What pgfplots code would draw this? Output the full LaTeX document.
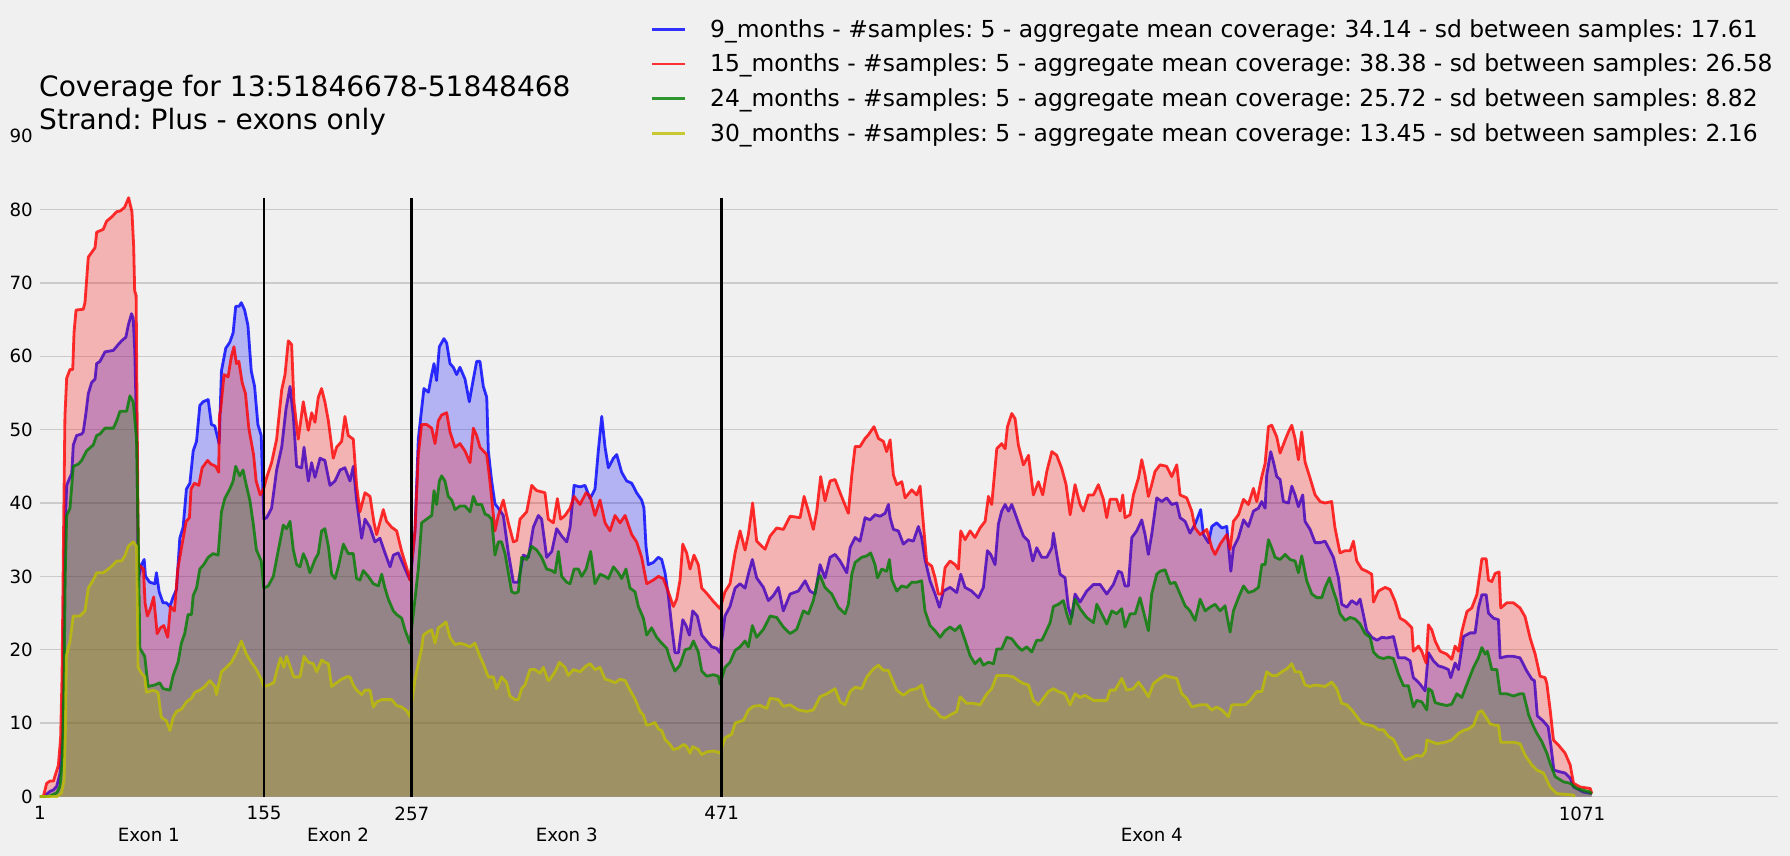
\documentclass[border=0pt]{standalone}
\usepackage{fontspec}
\setmainfont{DejaVu Sans}
\usepackage{pgfplots}
\usepackage{pgfplotstable}
\pgfplotsset{compat=1.18}
\frenchspacing
\definecolor{bgc}{HTML}{F0F0F0}
\definecolor{gridc}{HTML}{CBCBCB}
\definecolor{cblue}{rgb}{0,0,1}
\definecolor{cred}{rgb}{1,0,0}
\definecolor{cgreen}{rgb}{0,0.5,0}
\definecolor{cyel}{rgb}{0.75,0.75,0}

\pgfplotstableread{
x y
1 0
3.7 0
7.9 0.7
10.3 0.9
12.6 1.4
14.9 3.2
16.7 8.8
17.5 25
18.3 36.2
19.5 42.4
21.8 43.5
23 44
24.1 47.9
26.4 49.2
29.9 49.4
31 49.7
32.9 52.3
34.5 54.9
36.8 56.4
39.2 56.9
40.3 59
42.6 59.3
46.1 60.6
51.9 60.8
55.3 61.6
57.6 62.1
60.6 62.6
62.2 64.2
64.5 65.8
65.7 65.2
66.8 60.6
68.4 46.6
69.1 29.5
71.4 31.6
73.3 32.3
74.2 30
77.2 29.2
80.7 29
81.8 30.5
83.7 27.9
86.4 26.4
88.8 26.4
91.1 25.9
93.4 27.2
95.7 28.2
98 35.2
100.3 36.7
102.6 41.9
105 42.7
107.3 47.1
109.6 48.4
111.9 53.3
114.2 53.8
117.7 54.1
120 50.7
122.3 50.5
125.3 48.1
126.9 58
129.9 61.1
132.7 61.9
135 63.2
136.8 66.8
139.1 66.8
140.7 67.3
143 66.3
145.3 64.2
147.6 58
149.9 55.9
152.2 50.7
154.5 49.2
156.3 37.8
158.3 38
161.7 39.3
165.2 44.5
168.7 47.6
171.7 52.8
174.5 55.9
176.8 51.8
179.1 45
182.5 44.8
184.2 47.6
187.2 43
189.5 45.5
191.8 43.5
195.3 46.1
198.7 45.8
202.2 42.4
205.7 43
209.2 44.5
212.6 44.8
216.1 43
218.4 45
220.7 40.4
224.2 35.2
226.5 37.8
230 36.7
233.4 34.7
236.9 35.2
240.4 33.2
243.9 31.3
246.2 32.9
249.6 33.2
253.1 31.6
256.6 30
258 29.5
261.2 36.2
263.5 48.7
265.8 52.8
267.4 55.6
270.5 55.1
272.8 57.5
274.4 59
276.2 56.7
278.1 61.3
281.3 62.4
283.2 61.8
285.5 59
287.8 58.5
290.1 57.5
292.4 58.5
295.9 56.9
298.9 53.8
301.7 56.9
304 59.3
306.3 59.3
308.6 55.9
311 54.4
312.1 47.1
314.4 43
316.7 39.9
319 39.3
322.5 38.3
326 33.2
329.5 29.2
332.9 29.2
336.4 32.9
339.9 32.6
343.3 36.7
346.8 38.3
349.1 37.8
352.6 32.6
356.1 33.4
359.5 36.5
363 35.5
366.5 34.7
368.8 36.7
371.6 42.4
375.7 42.2
379.2 42.4
382.7 40.6
386.1 41.9
388.4 47.1
390.8 51.8
393.1 47.6
395.4 44.8
398.9 46.1
401.2 46.6
404.6 44.2
408.1 43
411.6 42.7
415 41.4
418.5 40.4
420.1 39.3
421.5 34.1
423.1 31.6
426.6 31.9
430.1 32.6
432.4 32.3
434.7 30.5
437 27.4
439.3 23.3
441.6 19.6
444 19.6
447 24.1
449.3 23.3
451.6 22
453.9 25.3
457.1 24.6
460.2 22
463.6 21.2
467.1 20.4
470.6 20.2
472.9 19.6
476.3 24.6
479.8 25.9
483.3 28.4
486.8 29
490.2 28.4
492.5 30.3
495.3 32.3
498.3 29.8
503 28.5
506.4 26.7
509.9 27.4
513.4 28.5
516.8 25.3
521.5 27.6
527.2 28
531.9 29.4
535.3 28
538.8 27.6
542.3 31.6
545.7 29.8
549.2 32.6
552.7 33
556.2 32.1
560.8 30.5
563.1 33.9
566.6 35.3
570 34.8
573.5 38
577 37.7
580.4 38.4
584 38.2
587.4 38.6
589.7 39.8
590.9 38
593.2 36.4
596.6 36.2
600.1 34.4
603.6 35
607 34.8
610.5 36.8
612.8 35.3
615.1 32.3
618.6 29.4
622.1 27.6
625.1 25.8
627.9 28
632.5 28.5
637.1 27.8
639.9 30.3
642.9 28.5
647.5 28
652.2 27.1
655.6 28.5
658.4 33.5
660.7 33
663.7 31.6
666 37.1
668.3 38.9
670.7 39.8
673 38.9
675.3 39.8
677.6 38.6
679.9 37.3
683.4 35.5
686.9 34.8
689.9 32.1
692.6 33.9
696.1 32.6
699.6 32.6
703.1 33.9
704.2 35.9
706.5 33
708.8 30.3
712.3 29.8
714.6 25.8
716.9 24.4
719.2 27.6
722.7 26.5
727.3 28
732 28.9
736.6 28.9
741.2 27.6
745.8 28.9
749.3 30.7
751.6 30.5
753.9 28.7
756.2 28.7
758.6 35.3
762 36.2
765.5 37.7
767.8 35.7
770.1 33
772.4 35.7
775.9 40.7
779.4 40.2
782.8 40.7
786.3 39.8
789.8 40
792.1 38
795.6 37.5
799 35.9
802.5 37.1
806.4 39.1
808.3 35.7
811.8 34.6
814.1 36.8
817.5 37.3
821 36.6
824.5 36.8
827.3 30.7
829.1 33.9
832.6 35.3
836.1 37.7
839.5 36.8
843 38.9
846.5 39.3
848.8 40.2
851.1 39.3
852.2 43.8
855 47
856.9 45.6
859.2 43.6
861.5 43.2
863.8 40.2
867.3 40
869.6 42.3
871.9 41.1
874.2 39.5
877.2 41.1
878.8 37.5
882.3 36.4
885.8 34.6
889.3 34.6
892.7 34.8
896.2 33.5
898.5 32.6
902 29.8
904.3 26.2
907.8 25.8
911.2 26.7
914.7 26.2
917 26.9
919.3 24.8
921.6 22.6
925.1 21.7
928.8 21.3
932.1 21.7
935.5 21.6
940.2 21.8
943.6 18.9
948.3 18.9
951.7 18.5
954 16.2
956.3 15.8
958.7 15.3
962.1 14.4
964.4 19.6
967.9 18.5
971.4 17.8
974.9 17.6
978.3 17.3
979.9 16.2
982.9 18.2
985.3 17.3
988.7 21.8
993.4 22.3
996.8 22.3
999.1 25.7
1001.5 27.5
1004.5 27.5
1006.1 25
1009.6 24.3
1013 24.1
1014.2 18.9
1018.8 19.1
1023.4 19.1
1028 18.9
1032.7 17.1
1036.2 16
1038 15.8
1040 11
1044 10.3
1047.5 9.5
1049.5 6.8
1051.5 3.6
1055 3.4
1059.3 3.2
1062.8 2.5
1065.1 1.3
1072 0.6
1077.8 0.4
}\bluedata

\pgfplotstableread{
x y
1 0
3.3 0
5.6 1.8
7.9 2.1
10.3 2.1
11.4 2.8
13.7 4.2
15.3 7.9
16.3 16.4
17.3 35
18.3 51.8
19.5 57
21.8 58.2
23.7 58.2
24.6 63.2
26 66.3
31 66.4
32.2 67.3
34.5 73.5
39.2 74.8
40.3 76.9
44.9 77.3
47.2 78.4
50.8 79
54.2 79.7
56.7 79.8
59.7 80.3
62.5 81.6
64.8 79.7
66 75
66.7 68.9
67.7 68.3
68.4 51.8
69.3 31.6
72.8 31
73.9 26.4
75.5 24.6
77.6 25.6
79.9 27.2
82.3 22.2
84.6 23
86.9 23.3
89.6 21.7
91.5 25.9
94.3 25.3
96.6 31
98.9 33.6
102.4 37.5
104.7 38
105.8 41.9
108.1 42.7
111.2 42.4
113.5 44.8
117.3 45.8
119.6 45.3
123 45
125 44.2
125.5 51.8
126.4 52.8
128.7 57.5
131.5 57.2
133.8 60
135.6 61.3
137.3 59
139 59.3
141.3 56.4
143.6 54.9
145.9 50.2
149.2 46.6
151 43
153.8 41.1
156.3 42
158.3 43.5
161.7 45.5
165.2 48.7
168.7 55.4
171 57.5
173.3 62.1
175.6 61.6
177.2 53.8
180.2 48.7
183.7 53.8
187.2 49.9
189.5 52.3
191.8 51
194.1 54.4
196.4 55.6
198.7 53.8
201.1 51.2
204.5 46.1
206.8 47.6
210.3 48.4
212.6 51.8
214.9 49.2
218.4 48.7
220.7 42.4
223 38.8
226.5 41.4
230 40.9
232.8 37.3
234.6 35.7
239.2 39.1
241.5 37.5
245 36.7
248.5 36.2
252 33.4
255.4 31.2
257.7 29.5
261.2 36.2
263.5 46.6
265.8 50.7
269.3 50.7
272.8 50.2
275.1 48.1
277.4 51.2
279.7 52
283.2 52.3
285.5 49.7
289 47.6
292.4 48.1
295.9 47.1
299.4 45.5
301.7 50.2
304 49.2
306.3 47.6
308.6 47.1
311 46.6
313.2 43
316.7 36.2
319 38.3
322.5 40.4
326 37.3
329.5 34.7
331.8 34.9
334.1 37.8
338.7 38.8
342.2 42.4
345.6 41.7
351.4 41.4
353.7 37.8
357.2 37.3
360 40.6
362.3 37.8
365.3 38.3
368.8 39.3
371.6 40.9
375.7 39.8
379.9 41.4
382.7 40.9
386.1 38.3
389.6 40.4
393.1 37.3
396.5 36.2
400 38.3
403.5 37.3
407 38.3
411.6 35.7
415 34.7
418.5 32.6
422 29
426.6 29.5
430.1 30
433.5 29.7
437 27.9
440.5 25.9
442.8 26.9
445.1 29.5
447 34.4
449.7 33.2
452.1 31
454.8 32.9
457.8 31.6
460.2 28.4
463.6 27.7
468.2 26.6
472.9 25.6
476.3 27.9
479.8 29
483.3 33.2
486.8 36.2
490.2 33.6
492.5 35.7
495.5 40
498.3 34.8
504.1 33.7
507.6 35.5
512.2 36.6
516.8 36.4
521.5 38.2
528.4 38
531.2 40.9
534.2 38.9
537.6 36.4
540 38.9
542.7 43.6
545.7 40.3
549.2 43
552.7 43.2
556.2 41.4
561.9 38.6
564.3 43.8
566.6 47.7
570 47.7
573.5 48.8
575.8 49.3
579.7 50.4
582.8 48.8
586.2 48.4
588.5 47
590.9 48.6
593.2 43.8
595.5 42.5
599 42.9
601.3 40.7
605.9 41.8
609.4 41.1
611.7 42.3
614 37.1
616.3 31.9
619.8 31.4
622.1 29.8
624.4 27.6
626.7 27.6
629 31.2
632.5 32.1
636 31.6
638.3 31
639.9 36.2
642.9 35
646.4 36.2
649.8 35.3
653.3 36.6
656.8 37.5
659.1 40.9
661.4 39.8
664.9 47.4
668.3 48.1
670.7 47.4
672.3 50.4
675.3 52.2
677.6 51.5
679.9 47.9
683.4 45.2
686.9 46.5
690.3 41.1
693.8 42.9
696.8 41.1
699.6 44.3
703.1 47
706.5 46.5
710 44.7
713 42.5
715.8 38.4
719.2 42.5
722.7 39.8
725 38.9
728.5 41.1
732 41.1
735.4 42.5
738.9 40.5
741.2 38
743.5 40.5
748.1 40.5
750.5 38.9
752.3 41.1
753.9 38
757.4 38.4
759.7 41.1
763.2 43.4
765.5 45.9
767.8 43.8
770.1 40.9
772.4 42.5
774.7 44.3
778.2 45.2
782.8 45
786.3 43.6
789.8 45.2
792.1 41.1
796.7 40.7
800.2 38.9
802.5 36.6
806 35.7
810.6 36.4
814.1 33.9
816.4 33
819.9 34.4
824.5 35.7
826.8 33.7
829.1 37.5
832.6 38.4
836.1 40.5
839.5 39.8
843 42
845.3 40.2
848.8 43.6
851.1 45.4
853.4 50.4
855.7 50.6
859.2 49
861.5 46.8
865 48.6
867.3 49.7
869.6 50.6
871.9 48.8
874.2 45.9
876.5 49.7
878.8 45.6
882.3 43.4
885.8 41.1
889.3 40.2
892.7 40
897.3 40.2
899.6 36.6
903.1 33.2
906.6 33.5
910.1 33.5
912.4 34.8
914.7 32.1
918.2 31
921.6 30.7
925.1 30.3
926.3 26.5
929.7 28
934.4 28.5
937.8 28.2
941.3 26.6
944.8 24.3
948.3 23.9
952.9 23
954 19.8
957.5 20.5
959.8 19.8
962.8 18.2
964.4 23.4
966.8 22.7
969.1 21.2
972.5 19.8
977.2 19.4
980.6 18.7
982.9 20.5
985.3 19.8
987.6 22.5
991.1 25.2
994.5 25.7
998 27.5
999.8 30
1001.5 32.4
1004.5 32.4
1006.1 29.5
1008.4 29.3
1010.7 30.4
1013.5 30.6
1014.6 25.7
1018.8 26.4
1023.4 26.4
1028 25.7
1031.5 24.5
1035 21.6
1038.5 19.4
1041.9 16.4
1045.4 16.2
1046.6 15.4
1048.9 11.8
1051.2 7.7
1054.7 7
1059.3 5.9
1062.8 4.3
1065.1 1.8
1069.7 1.3
1076.7 1.1
1077.8 0.4
}\reddata

\pgfplotstableread{
x y
1 0
6.7 0
12.6 0.5
14.9 1.4
16.5 5
17.7 15.7
18.5 30
19.5 38.3
21.8 39.3
24.1 45
27.6 45.3
29.9 45.8
33.3 47.1
37.9 47.9
40.3 49.2
42.6 49.4
46.1 50.2
51.9 50.2
54.2 51.2
56.5 52.5
61.1 52.5
63.4 54.6
65.7 53.8
68 48.7
69.1 36.2
70.3 20.2
73.7 19.1
76 15
80.7 15.2
84.1 15.5
86.4 14.7
91.1 14.5
93.4 16.5
96.8 18.3
99.1 20.9
101.4 22.2
103.7 24.8
106.1 24.8
107.3 27.4
109.6 28.4
111.9 31
114.6 31.6
117.7 32.6
121.1 33.1
124.6 32.9
126.9 38.8
129.2 40.6
132.7 41.9
135 43
136.8 45
139.6 43.7
141.9 44.5
144.2 42.4
146.6 40.4
148.9 37.3
151.2 33.6
154.5 32.1
156.3 28.4
159.4 28.7
162.9 30
166.4 33.6
169.8 37
172.1 36.5
174.5 37.5
176.8 33.6
179.1 31.6
181.4 31.3
183.7 33.1
186 32.1
188.3 30.5
191.8 32.3
194.1 33.1
196.4 36.2
198.7 36.5
201.1 34.1
203.4 30.3
205.7 29.7
208 31.3
211.5 34.4
214.9 33.1
218.4 33.1
220.7 29.7
223 29.5
225.3 30.8
228.8 30
232.3 29
235.8 28.7
238.1 30.3
240.4 28.4
242.7 26.9
246.2 25.3
248.5 24.8
252 24.3
254.3 22.7
257.7 20.9
261.2 26.9
263.5 31
265.8 37.3
269.3 37.8
272.8 38.3
274.4 41.7
276.2 39.8
278.1 43
279.7 43.7
282 43
284.3 40.9
286.7 40.4
289 39.1
292.4 39.6
295.9 39.6
299.4 38.8
301.7 40.9
304 39.8
307.5 39.8
309.8 38.5
312.1 38.3
314.4 37.8
316.7 32.9
319 34.7
321.3 34.7
323.7 33.1
328.3 27.9
330.6 27.7
332.9 27.9
335.2 32.6
338.7 32.3
342.2 34.1
345.6 33.6
349.1 32.6
352.6 31
356.1 30.8
358.4 30.5
360.7 33.4
363 30
366.5 29.2
368.8 29
371.6 31
374.6 31
376.9 30
379.9 31
383.1 33.4
386.1 29
389.6 30.3
393.1 30
395.4 29.7
398.9 31.3
402.3 30.5
404.6 29.7
407.6 31
410.4 28.4
413.9 27.9
416.2 25.9
419.7 24.3
422 22
425.4 23
428.9 21.7
432.4 20.9
435.9 20.2
438.2 18.7
441.6 17.1
445.1 17.9
448.6 20
452.1 20.2
454.4 21.2
457.8 19.7
460.2 17.1
463.6 16.4
468.2 16.6
471.7 16.4
472.9 15.3
476.3 17.6
479.8 18.3
483.3 19.9
486.8 20.4
490.2 21.2
492.5 20.4
495.3 23.3
498.3 21.7
503 22.8
507.6 24.6
512.2 24.4
516.8 23.1
521.5 22.2
526.1 22.8
530.7 25.3
534.2 24.9
537.6 26.7
541.1 29.8
542.3 30.1
545.7 28.5
550.4 27.6
555 25.8
559.6 24.9
561.9 26.2
564.3 30.3
566.6 31.9
571.2 32.6
574.7 32.8
577.4 33.2
580.4 31.6
582.1 29.8
585.1 31
588.5 30.7
590.4 32.3
592 29.6
595.5 28
599 28.7
602.4 28.5
605.9 29.2
609.4 29.2
612.8 29.4
615.1 25.3
618.6 23.3
622.1 22.6
625.6 21.7
629 22.6
632.5 23.1
636 22.6
639.4 23.3
642.9 21.3
646.4 19.2
649.8 18.1
653.3 18.8
655.6 17.9
659.1 18.3
662.6 18.1
664.9 20.1
668.3 20.1
671.8 21.7
675.3 21.5
678.8 20.6
682.2 19.9
685.7 20.4
689.2 19.7
692.6 21.3
696.1 21.3
698.4 22.2
701.9 23.7
704.2 25.9
707.7 26.2
711.1 26.7
713.5 24.9
715.8 23.5
719.2 26.9
722.7 25.6
727.3 24.4
732 23.7
734.3 26.2
737.7 24.9
741.2 23.5
744.7 25.3
748.1 24.9
751.6 25.6
753.9 23.1
757.4 24.9
760.9 24.9
764.3 27.1
766.6 25.3
770.1 22.6
772.4 27.6
775.9 30.3
778.2 30.7
781.7 30.9
785.2 29
788.6 29.2
792.1 27.6
795.6 26
799 25.3
802.5 24
806 26.9
809.5 25.3
812.9 25.8
816.4 26.2
819.9 25.3
823.3 26
826.8 22.4
829.1 25.3
832.6 27.1
836.1 28.7
839.5 27.8
843 28
846.5 28.5
848.8 31.6
851.1 31.6
853.4 35
855.7 33.9
858 32.6
861.5 32.3
865 33
868.4 32.3
871.9 32.1
874.2 30.5
876.5 32.8
880 29.4
883.5 27.6
887 27.1
890.4 27.1
892.7 28.5
895.7 29.8
898.5 28
900.8 26.7
903.1 24.9
906.6 24
910.1 24.4
913.5 24.2
917 23.5
920.5 22.2
924 21.7
926.3 19.7
929.7 19
933.2 18.8
936.7 19
940.1 18.8
943.6 16.7
947.1 15.1
950.5 15.1
954 12.2
956.3 13.1
959.8 12.9
963.3 11.8
964.4 14.7
966.8 14.4
969.1 12.8
972.5 12.6
977.2 12.4
980.6 12.6
984.1 14
987.6 13.5
991.1 15.3
995.7 17.6
999.1 18.9
1001.5 20.3
1003.8 19.4
1005.4 19.8
1008.4 17.3
1011.9 17.3
1014.2 14
1018.8 14
1023.4 13.7
1028 14
1030.4 14
1032.7 12.2
1034 11.1
1037.4 9.5
1039.7 8.6
1043.1 7.5
1046.6 5.9
1048.9 4.5
1052.4 2.7
1058.2 2
1062.8 1.8
1067.4 1.1
1076.7 0.6
1077.5 0.3
}\greendata

\pgfplotstableread{
x y
1 0
13 0
15.9 0.5
17.7 2.3
18.6 8.8
19.3 19.2
21.8 21.2
24.1 24.6
28.7 24.6
32.2 25.3
34.5 28.4
37.9 29.5
40.3 30.5
44.9 30.5
48.4 31
51.9 31.6
54.2 32.1
57.6 32.1
59.9 32.8
62.2 34.1
65.7 34.7
68 34.1
69.1 17.6
71.4 16.8
73.7 16.3
74.9 14.2
79.5 14.5
82.9 14.2
85.2 10.8
88.8 10.3
91.1 9
93.4 10.8
95.7 11.6
99.2 11.9
102.6 12.9
106.1 13.4
108.4 14.2
111.9 14.5
115.3 15
118.8 15.8
122.3 15
123.4 13.9
126.9 17
130.3 17.6
133.8 18.3
137.3 19.6
140.7 21.2
144.2 19.4
147.6 18.3
151.2 17.3
154.5 16
156.3 15
159.7 15.2
163.2 15.5
165.5 17.3
167.9 18.9
170.2 17.6
172.1 19.1
174.8 17.6
177.1 16.3
181.4 16.3
184.2 19.1
187.2 18.3
190.7 18.1
193 17
196.4 18.6
198.7 18.3
201.1 18.1
203.4 15
206.8 15.5
210.3 16
213.8 16.3
216.1 16.3
218.4 15.2
220.7 14.5
224.2 13.9
226.5 14.5
230 14.5
232.3 12.2
234.6 12.9
238.1 13.2
245 13.2
248.5 12.4
252 12.2
255.4 11.7
257.7 10.9
261.2 16
263.5 18.1
265.8 20.2
267 22
270.5 22.5
272.8 22.7
275.1 20.9
277.4 23
279.7 23.3
282.7 23.8
285.5 21.7
289 20.7
292.4 20.9
295.9 20.7
299.4 20.4
302.8 20.9
306.3 19.1
308.6 18.1
312.1 16.3
315.6 16.3
317.9 14.7
321.3 16.3
324.8 15.5
327.1 13.7
330.6 13.2
332.9 13.2
335.2 14.7
337.5 15.2
341 17.3
344.5 17.3
347.9 16.8
350.3 17.6
353.7 15.8
354.9 16
358.4 17
361.4 18.3
365.3 17.6
367.6 16.5
371.1 17.3
375.7 17
379.9 17.8
382.7 18.1
386.1 17.3
389.6 17.6
393.1 16
396.5 15.8
400 15.5
403.5 16
407 15.8
410.4 14.5
413.9 13.3
417.4 11.6
419.7 11.1
422 9.7
425.5 9.9
427.8 10.1
430.1 9.2
432.4 9
434.7 7.8
438.2 7.1
440.5 6.4
444 6.6
447.5 7.1
449.8 6.8
452.1 5.9
453.9 6.8
457.9 6.4
460.2 5.7
463.6 6.1
468.3 6.2
470.6 6.1
472.9 5.9
476.4 8
481 8.5
483.3 10
489.1 10.4
492.6 11.8
496 12.3
500.7 12.4
505.3 12
507.6 13.4
513.4 13.2
516.8 12.3
521.5 12.5
527.2 11.8
533 11.6
537.6 11.8
542.3 13.6
546.9 14
552.7 14.7
556.2 12.9
559.6 12.5
563.1 14.3
566.6 14.9
571.2 14.7
574.7 16.3
579.3 17.4
582.8 17.9
586.2 17.2
589.7 17.2
592 16.1
595.5 14.5
600.1 13.8
604.7 14.5
609.4 14.7
612.8 15.2
615.1 13.6
618.6 12.2
622.1 11.8
625.6 10.9
629 10.7
632.5 11.1
637.1 11.6
639.4 13.6
644 12.7
648.7 12.7
653.3 12.5
658 14
661.4 14.7
664.9 16.5
668.3 16.5
671.8 16.5
676.4 16.3
679.9 15.8
683.4 15.4
686.9 15.2
690.3 13.1
693.8 12.5
697.3 13.4
700.7 14.3
704.2 14.7
707.7 14.3
712.3 14
715.8 12.5
719.2 14
722.7 13.5
726.2 13.8
732 13.1
741.2 13.1
743.5 14.5
747 14.5
751.6 16.1
755.1 14.5
759.7 14.7
763.2 15.6
766.6 14.7
770.1 13.6
773.6 15.4
778.2 16.1
781.7 16.5
785.2 16.3
789.8 16.1
793.3 14
796.7 13.4
800.2 12.2
806 12.5
810.6 12.5
814.1 11.8
817.5 12.2
821 11.8
825.6 10.9
828 12.5
837.2 12.5
840.7 13.1
845.3 14.3
848.8 14.3
852.2 17
855.7 16.5
859.2 16.5
862.7 17
866.1 17.4
869.6 18.1
871.9 17
875.4 17
878.8 15.2
882.3 15
885.8 15.2
892.7 15
897.3 15.6
900.8 14.7
904.3 12.7
907.8 12.5
911.2 11.8
914.7 10.9
918.2 10
921.6 9.8
926.3 9.6
929.7 9.1
933.2 9.1
936.7 8.2
940.1 7.8
942.5 6.9
945 5.8
948 5
952 5.2
956 5.6
960 5.5
962.5 6.2
963.3 7.7
970.2 7.2
976 7.4
980.6 7.7
985.3 8.6
988.7 9
992.2 9.2
995.7 9.7
999.1 11.5
1001.5 11.7
1003.8 11
1007.2 9.9
1010.7 9.7
1013 9.7
1014.6 7.4
1020 7.4
1023.4 7.4
1028 7.2
1031.6 5.6
1036.2 4.3
1039.7 3.6
1044.3 3.2
1048.9 1.3
1053.5 0.4
1065.1 0.2
1066 0
}\yeldata

\begin{document}
\begin{tikzpicture}
\fill[bgc] (-40bp,-59.5bp) rectangle (1750bp,796.5bp);
\useasboundingbox (-40bp,-59.5bp) rectangle (1750bp,796.5bp);
\begin{axis}[
  scale only axis,
  width=1738bp, height=660.4bp,
  at={(0,0)}, anchor=south west,
  xmin=1, xmax=1207, ymin=0, ymax=90,
  axis line style={draw=none},
  major tick length=0pt,
  ytick={0,10,...,80},
  extra y ticks={90},
  extra y tick style={grid=none},
  ymajorgrids=true,
  grid style={gridc, line width=1.3bp},
  xtick={1,156.5,259,474,1071},
  xticklabels={1,155,257,471,1071},
  extra x ticks={76.5,207.75,366.5,772.5},
  extra x tick labels={Exon 1,Exon 2,Exon 3,Exon 4},
  extra x tick style={grid=none, xticklabel style={yshift=-21.5bp}},
  /pgf/number format/assume math mode=true,
  tick label style={font=\fontsize{18.3}{22}\selectfont, inner sep=0pt},
  yticklabel style={xshift=-7bp},
  xticklabel style={yshift=-10bp, anchor=north},
  clip=false,
]
\addplot[draw=none, fill=cblue, fill opacity=0.25] table {\bluedata} \closedcycle;
\addplot[cblue, draw opacity=0.8, line width=2.8bp, line join=round] table {\bluedata};
\addplot[draw=none, fill=cred, fill opacity=0.25] table {\reddata} \closedcycle;
\addplot[cred, draw opacity=0.8, line width=2.8bp, line join=round] table {\reddata};
\addplot[draw=none, fill=cgreen, fill opacity=0.25] table {\greendata} \closedcycle;
\addplot[cgreen, draw opacity=0.8, line width=2.8bp, line join=round] table {\greendata};
\addplot[draw=none, fill=cyel, fill opacity=0.25] table {\yeldata} \closedcycle;
\addplot[cyel, draw opacity=0.8, line width=2.8bp, line join=round] table {\yeldata};
\addplot[black, line width=2.8bp] coordinates {(156.5,0) (156.5,81.6)};
\addplot[black, line width=2.8bp] coordinates {(259,0) (259,81.6)};
\addplot[black, line width=2.8bp] coordinates {(474,0) (474,81.6)};
\end{axis}
% title
\node[anchor=base west, inner sep=0pt, font=\fontsize{28.15}{32}\selectfont] at (-1bp,699.8bp) {Coverage for 13:51846678-51848468};
\node[anchor=base west, inner sep=0pt, font=\fontsize{28.15}{32}\selectfont] at (-1bp,667.2bp) {Strand: Plus - exons only};
% legend
\begin{scope}[font=\fontsize{23.5}{27}\selectfont]
\draw[cblue, draw opacity=0.8, line width=2.8bp] (612bp,767.2bp) -- (645bp,767.2bp);
\node[anchor=base west, inner sep=0pt] at (670bp,759.2bp) {9\_months - \#samples: 5 - aggregate mean coverage: 34.14 - sd between samples: 17.61};
\draw[cred, draw opacity=0.8, line width=2.8bp] (612bp,732.5bp) -- (645bp,732.5bp);
\node[anchor=base west, inner sep=0pt] at (670bp,724.5bp) {15\_months - \#samples: 5 - aggregate mean coverage: 38.38 - sd between samples: 26.58};
\draw[cgreen, draw opacity=0.8, line width=2.8bp] (612bp,698.2bp) -- (645bp,698.2bp);
\node[anchor=base west, inner sep=0pt] at (670bp,689.8bp) {24\_months - \#samples: 5 - aggregate mean coverage: 25.72 - sd between samples: 8.82};
\draw[cyel, draw opacity=0.8, line width=2.8bp] (612bp,663.2bp) -- (645bp,663.2bp);
\node[anchor=base west, inner sep=0pt] at (670bp,655.1bp) {30\_months - \#samples: 5 - aggregate mean coverage: 13.45 - sd between samples: 2.16};
\end{scope}
\end{tikzpicture}
\end{document}
